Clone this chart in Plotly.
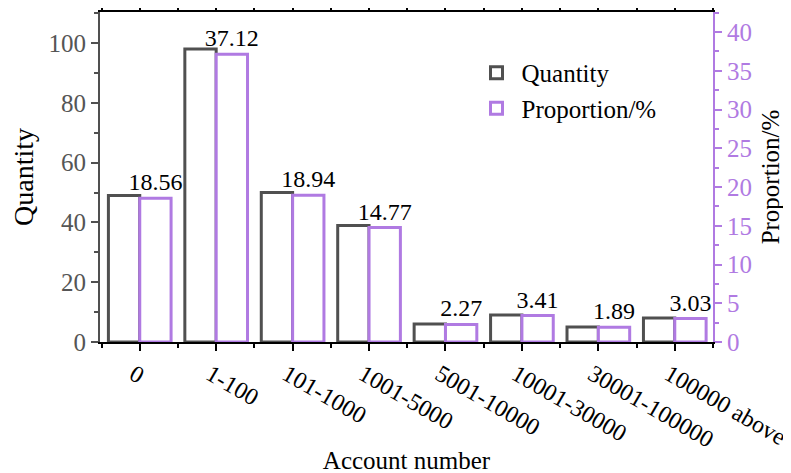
import plotly.graph_objects as go

categories = ["0", "1-100", "101-1000", "1001-5000", "5001-10000",
              "10001-30000", "30001-100000", "100000 above"]
quantity = [49, 98, 50, 39, 6, 9, 5, 8]
proportion = [18.56, 37.12, 18.94, 14.77, 2.27, 3.41, 1.89, 3.03]

GRAY = "#505050"
PURPLE = "#b07ae2"
FONT = "Liberation Serif"

xpos = list(range(len(categories)))

fig = go.Figure()

fig.add_trace(go.Bar(
    x=xpos, y=quantity, name="Quantity",
    marker=dict(color="white", line=dict(color=GRAY, width=3)),
    offsetgroup="q", yaxis="y",
))
fig.add_trace(go.Bar(
    x=xpos, y=proportion, name="Proportion/%",
    marker=dict(color="white", line=dict(color=PURPLE, width=3)),
    offsetgroup="p", yaxis="y2",
    text=[f"{v:.2f}" for v in proportion], textposition="outside",
    constraintext="none", cliponaxis=False,
    textfont=dict(family=FONT, size=24, color="black"),
))

# page body has an 8px margin, so margins are trimmed to compensate
fig.update_layout(
    width=791, height=473,
    margin=dict(l=92, r=86, t=4, b=139),
    plot_bgcolor="white", paper_bgcolor="white",
    font=dict(family=FONT, size=25, color="black"),
    barmode="group", bargap=0.18, bargroupgap=0,
    showlegend=True,
    legend=dict(x=0.606, y=0.885, xanchor="left", yanchor="top",
                bgcolor="rgba(0,0,0,0)", font=dict(family=FONT, size=25),
                itemwidth=40, tracegroupgap=2),
    xaxis=dict(
        range=[-0.52, 7.5], tickangle=30, automargin=False,
        tickvals=xpos, ticktext=categories, ticklabeloverflow="allow",
        ticklabelshift=-6,
        showline=True, linecolor="black", linewidth=2, mirror="ticks",
        ticks="outside", tickcolor="black", tickwidth=2, ticklen=7,
        minor=dict(ticks="outside", tickcolor="black", ticklen=4, tickwidth=2,
                   tick0=0.5, dtick=1),
        tickfont=dict(family=FONT, size=24, color="black"),
        showgrid=False, zeroline=False,
        title=dict(text="Account number", standoff=0,
                   font=dict(family=FONT, size=25, color="black")),
    ),
    yaxis=dict(
        range=[0, 110.4], dtick=20, automargin=False,
        showline=True, linecolor=GRAY, linewidth=2,
        ticks="outside", tickcolor=GRAY, tickwidth=2, ticklen=7,
        minor=dict(ticks="outside", tickcolor=GRAY, ticklen=4, dtick=10),
        tickfont=dict(family=FONT, size=25, color="#555555"),
        showgrid=False, zeroline=False,
        title=dict(text="Quantity", standoff=12,
                   font=dict(family=FONT, size=28, color="black")),
    ),
    yaxis2=dict(
        range=[0, 42.58], dtick=5, overlaying="y", side="right",
        automargin=False,
        showline=True, linecolor=PURPLE, linewidth=2,
        ticks="outside", tickcolor=PURPLE, tickwidth=2, ticklen=7,
        minor=dict(ticks="outside", tickcolor=PURPLE, ticklen=4, dtick=2.5),
        tickfont=dict(family=FONT, size=25, color=PURPLE),
        showgrid=False, zeroline=False,
        title=dict(text="Proportion/%", standoff=10,
                   font=dict(family=FONT, size=25, color="black")),
    ),
)

fig.write_html("out.html")
